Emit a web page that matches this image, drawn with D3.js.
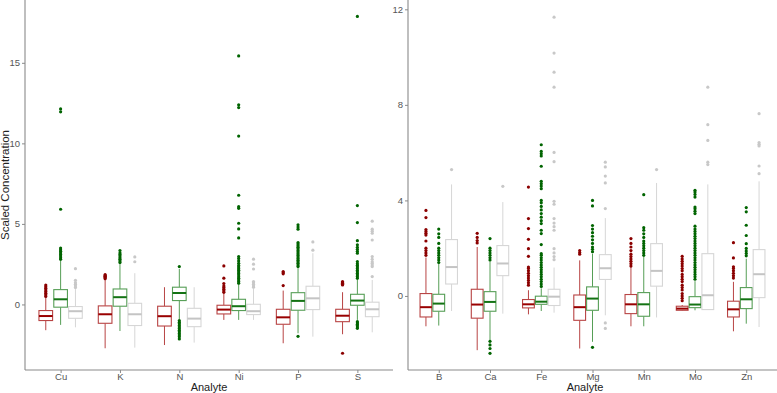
<!DOCTYPE html>
<html>
<head>
<meta charset="utf-8">
<script src="https://cdn.jsdelivr.net/npm/d3@7"></script>
<style>
  body { margin: 0; background: #fff; }
  text { font-family: "Liberation Sans", Arial, sans-serif; }
</style>
</head>
<body>
<div id="chart"></div>
<script>
// categories
var leftCats  = ["Cu", "K", "N", "Ni", "P", "S"];
var rightCats = ["B", "Ca", "Fe", "Mg", "Mn", "Mo", "Zn"];
var seriesNames = ["red", "green", "grey"];

// box stats per category: [lower whisker, q1, median, q3, upper whisker]
var redLeft = [
  [-1.6, -1.0, -0.72, -0.38, 0.4],
  [-2.72, -1.17, -0.61, -0.09, 1.56],
  [-2.52, -1.34, -0.73, -0.11, 1.07],
  [-0.96, -0.59, -0.32, -0.05, 0.68],
  [-2.41, -1.23, -0.80, -0.30, 0.86],
  [-1.85, -1.07, -0.70, -0.30, 0.76]
];
var greenLeft = [
  [-1.27, -0.17, 0.32, 0.92, 2.7],
  [-1.65, -0.11, 0.45, 0.96, 2.5],
  [-0.92, 0.24, 0.71, 1.07, 2.2],
  [-0.96, -0.38, -0.11, 0.32, 1.28],
  [-1.79, -0.36, 0.22, 0.73, 2.25],
  [-0.96, -0.05, 0.24, 0.63, 1.58]
];
var greyLeft = [
  [-1.42, -0.86, -0.42, -0.13, 0.95],
  [-2.68, -1.31, -0.61, 0.07, 1.94],
  [-2.37, -1.38, -0.88, -0.24, 1.07],
  [-0.96, -0.63, -0.42, 0.01, 1.0],
  [-2.0, -0.32, 0.38, 1.13, 3.18],
  [-1.73, -0.76, -0.30, 0.14, 1.52]
];
var redLeftOut = [
  [0.5, 0.6, 0.7, 0.8, 0.9, 1.0, 1.1, 1.2],
  [1.6, 1.65, 1.7, 1.75, 1.8, 1.85],
  [],
  [0.75, 0.85, 0.95, 1.05, 1.15, 1.3, 1.63, 2.39],
  [1.17, 1.9, 1.97, 2.04],
  [1.21, 1.26, 1.31, 1.36, 1.42, -3.03]
];
var greenLeftOut = [
  [2.8, 2.9, 3.0, 3.1, 3.2, 3.3, 3.4, 3.5, 5.91, 11.96, 12.14],
  [2.6, 2.7, 2.8, 2.9, 3.0, 3.1, 3.2, 3.35],
  [2.35, -1.0, -1.1, -1.2, -1.3, -1.4, -1.5, -1.6, -1.7, -1.8, -1.9, -2.0, -2.14],
  [1.32, 1.42, 1.52, 1.62, 1.72, 1.82, 1.92, 2.02, 2.12, 2.22, 2.32, 2.42, 2.55, 2.7, 2.85, 2.97,
   4.13, 4.69, 5.04, 5.97, 6.07, 6.78, 10.45, 12.22, 12.39, 15.43],
  [2.35, 2.45, 2.55, 2.65, 2.75, 2.85, 2.95, 3.05, 3.15, 3.25, 3.35, 3.45, 3.55, 3.65, 3.75, 3.84,
   4.67, 4.8, 4.94, -1.98],
  [1.63, 1.73, 1.83, 1.93, 2.03, 2.13, 2.23, 2.33, 2.43, 2.53, 2.66, 3.18, 3.3, 3.42, 3.55, 3.7,
   3.96, 5.08, 6.14, 17.88, -1.07, -1.15, -1.23, -1.31, -1.4, -1.48]
];
var greyLeftOut = [
  [1.05, 1.15, 1.25, 1.35, 1.5, 2.22],
  [2.65, 2.95],
  [],
  [1.07, 1.15, 1.25, 1.35, 1.42, 2.2, 2.5, 2.81],
  [3.37, 3.88],
  [1.73, 2.35, 2.45, 2.55, 2.65, 2.8, 2.97, 4.0, 4.42, 4.55, 4.67, 5.17]
];

var redRight = [
  [-1.27, -0.88, -0.47, 0.10, 1.61],
  [-2.27, -0.93, -0.36, 0.28, 2.05],
  [-0.77, -0.50, -0.35, -0.15, 0.24],
  [-2.2, -1.02, -0.47, 0.04, 1.49],
  [-1.27, -0.74, -0.35, 0.06, 1.21],
  [-0.62, -0.60, -0.53, -0.43, -0.38],
  [-1.48, -0.88, -0.56, -0.22, 0.59]
];
var greenRight = [
  [-1.24, -0.64, -0.32, 0.07, 1.36],
  [-1.85, -0.64, -0.25, 0.18, 1.42],
  [-0.63, -0.35, -0.24, -0.01, 0.32],
  [-1.92, -0.60, -0.11, 0.38, 1.77],
  [-1.27, -0.85, -0.35, 0.14, 1.63],
  [-0.60, -0.49, -0.36, -0.03, 0.62],
  [-1.16, -0.53, -0.14, 0.35, 1.56]
];
var greyRight = [
  [-0.63, 0.50, 1.21, 2.36, 4.67],
  [-0.74, 0.85, 1.36, 2.11, 3.93],
  [-0.70, -0.40, -0.03, 0.28, 1.19],
  [-0.81, 0.69, 1.16, 1.73, 3.26],
  [-0.90, 0.41, 1.05, 2.19, 4.73],
  [-0.57, -0.57, 0.03, 1.77, 4.67],
  [-1.30, -0.07, 0.91, 1.94, 4.80]
];
var redRightOut = [
  [1.7, 1.8, 1.9, 2.0, 2.3, 2.55, 2.62, 2.7, 2.78, 3.28, 3.58],
  [2.22, 2.32, 2.45, 2.62],
  [0.45, 0.55, 0.65, 0.75, 0.85, 0.95, 1.05, 1.15, 1.21, 1.66, 1.98, 2.37, 2.82, 3.24, 4.56],
  [1.75, 1.82, 1.9],
  [1.25, 1.35, 1.45, 1.55, 1.65, 1.75, 1.9, 2.05, 2.2, 2.4],
  [-0.2, -0.1, 0.0, 0.1, 0.25, 0.35, 0.45, 0.6, 0.7, 0.8, 0.9, 1.05, 1.15, 1.25, 1.35, 1.45, 1.55, 1.66],
  [0.75, 0.85, 0.95, 1.05, 1.15, 1.22, 1.59, 2.23]
];
var greenRightOut = [
  [1.4, 1.5, 1.6, 1.7, 1.8, 1.9, 2.0, 2.2, 2.45, 2.6, 2.8],
  [1.5, 1.6, 1.7, 1.8, 1.9, 2.0, 2.4, -1.9, -2.05, -2.2, -2.4],
  [0.4, 0.5, 0.6, 0.7, 0.8, 0.9, 1.0, 1.1, 1.2, 1.3, 1.4, 1.5, 1.6, 1.7, 1.77, 2.15, 2.61, 2.75,
   3.03, 3.15, 3.3, 3.45, 3.6, 3.75, 3.9, 4.0, 4.49, 4.6, 4.7, 4.8, 5.43, 5.86, 5.95, 6.05, 6.33],
  [1.85, 1.95, 2.05, 2.2, 2.35, 2.5, 2.65, 2.8, 2.95, 3.77, 4.0, -2.15],
  [1.7, 1.8, 1.9, 2.0, 2.1, 2.2, 2.3, 2.45, 2.6, 2.75, 2.86, 4.24],
  [0.7, 0.8, 0.9, 1.0, 1.1, 1.2, 1.3, 1.4, 1.5, 1.6, 1.7, 1.8, 1.9, 2.0, 2.1, 2.2, 2.3, 2.4, 2.5,
   2.6, 2.7, 2.8, 2.92, 3.45, 3.55, 3.65, 3.72, 4.14, 4.25, 4.35, 4.42],
  [1.68, 1.78, 1.88, 1.99, 2.19, 2.53, 2.96, 3.52, 3.7]
];
var greyRightOut = [
  [5.29],
  [4.59],
  [1.52, 1.65, 1.8, 1.98, 2.75, 2.9, 3.05, 3.24, 3.84, 3.96, 5.62, 6.01, 8.74, 9.37, 10.17, 11.67],
  [3.66, 4.73, 5.02, 5.4, 5.6, -1.13, -1.36],
  [5.29],
  [5.5, 5.6, 6.51, 7.17, 8.74],
  [5.12, 5.44, 6.28, 6.35, 6.42, 7.63]
];

// y ticks
var leftTicks  = [0, 5, 10, 15];
var rightTicks = [0, 4, 8, 12];

var W = 777, H = 393;
var boxColor   = { red: "#b84444", green: "#569e56", grey: "#d6d6d6" };
var medColor   = { red: "#990000", green: "#137313", grey: "#c4c4c4" };
var pointColor = { red: "#8b0000", green: "#006400", grey: "#c8c8c8" };
var axisColor = "#8a8a8a";

var svg = d3.select("#chart").append("svg")
  .attr("width", W)
  .attr("height", H);

var drawPanel = function (cats, stats, outs, yDomain, ticks, x0, x1, titleX) {
  var top = 0, bottom = 370;
  var x = d3.scalePoint().domain(cats).range([x0, x1]).padding(0.6);
  var y = d3.scaleLinear().domain(yDomain).range([bottom, top]);
  var step = x.step();
  var bw = step * 0.23;
  var offs = [-0.25, 0, 0.25];

  var g = svg.append("g");

  seriesNames.forEach(function (s, si) {
    var rows = cats.map(function (c, i) {
      return { cat: c, st: stats[si][i], out: outs[si][i], cx: x(c) + offs[si] * step };
    });
    var sg = g.append("g");

    // whiskers
    sg.selectAll(".wlo").data(rows).enter().append("line")
      .attr("x1", function (d) { return d.cx; })
      .attr("x2", function (d) { return d.cx; })
      .attr("y1", function (d) { return y(d.st[1]); })
      .attr("y2", function (d) { return y(d.st[0]); })
      .attr("stroke", boxColor[s]).attr("stroke-width", 1);
    sg.selectAll(".whi").data(rows).enter().append("line")
      .attr("x1", function (d) { return d.cx; })
      .attr("x2", function (d) { return d.cx; })
      .attr("y1", function (d) { return y(d.st[3]); })
      .attr("y2", function (d) { return y(d.st[4]); })
      .attr("stroke", boxColor[s]).attr("stroke-width", 1);

    // boxes
    sg.selectAll("rect").data(rows).enter().append("rect")
      .attr("x",      function (d) { return d.cx - bw / 2; })
      .attr("y",      function (d) { return y(d.st[3]); })
      .attr("width",  bw)
      .attr("height", function (d) { return Math.max(0.5, y(d.st[1]) - y(d.st[3])); })
      .attr("fill", "#fff")
      .attr("stroke", boxColor[s]).attr("stroke-width", 1.1);

    // medians
    sg.selectAll(".med").data(rows).enter().append("line")
      .attr("x1", function (d) { return d.cx - bw / 2; })
      .attr("x2", function (d) { return d.cx + bw / 2; })
      .attr("y1", function (d) { return y(d.st[2]); })
      .attr("y2", function (d) { return y(d.st[2]); })
      .attr("stroke", medColor[s]).attr("stroke-width", 2);

    // outliers
    var pts = [];
    rows.forEach(function (d) {
      d.out.forEach(function (v) { pts.push({ cx: d.cx, v: v }); });
    });
    sg.selectAll("circle").data(pts).enter().append("circle")
      .attr("cx", function (d) { return d.cx; })
      .attr("cy", function (d) { return y(d.v); })
      .attr("r", 1.6)
      .attr("fill", pointColor[s]);
  });

  // axes
  var ya = g.append("g").attr("transform", "translate(" + x0 + ",0)")
    .call(d3.axisLeft(y).tickValues(ticks).tickSize(3).tickPadding(2));
  var xa = g.append("g").attr("transform", "translate(0," + bottom + ")")
    .call(d3.axisBottom(x).tickSize(3).tickPadding(0));
  [ya, xa].forEach(function (a) {
    a.select(".domain").attr("stroke", axisColor).attr("stroke-width", 1.1);
    a.selectAll(".tick line").attr("stroke", axisColor);
    a.selectAll(".tick text").attr("fill", "#555").attr("font-size", 9.5)
      .style("font-family", "'Liberation Sans', Arial, sans-serif");
  });
  ya.select(".domain").attr("d", "M0," + top + "V" + bottom);
  xa.select(".domain").attr("d", "M" + x0 + ",0H" + x1);

  g.append("text")
    .attr("x", titleX)
    .attr("y", 391)
    .attr("text-anchor", "middle")
    .attr("font-size", 11)
    .attr("fill", "#222")
    .text("Analyte");

  return g;
};

drawPanel(leftCats, [redLeft, greenLeft, greyLeft], [redLeftOut, greenLeftOut, greyLeftOut],
  [-4.07, 18.9], leftTicks, 25, 393, 209);
drawPanel(rightCats, [redRight, greenRight, greyRight], [redRightOut, greenRightOut, greyRightOut],
  [-3.1, 12.39], rightTicks, 408, 777, 585);

svg.append("text")
  .attr("transform", "translate(9,185) rotate(-90)")
  .attr("text-anchor", "middle")
  .attr("font-size", 11.5)
  .attr("fill", "#222")
  .text("Scaled Concentration");
</script>
</body>
</html>
